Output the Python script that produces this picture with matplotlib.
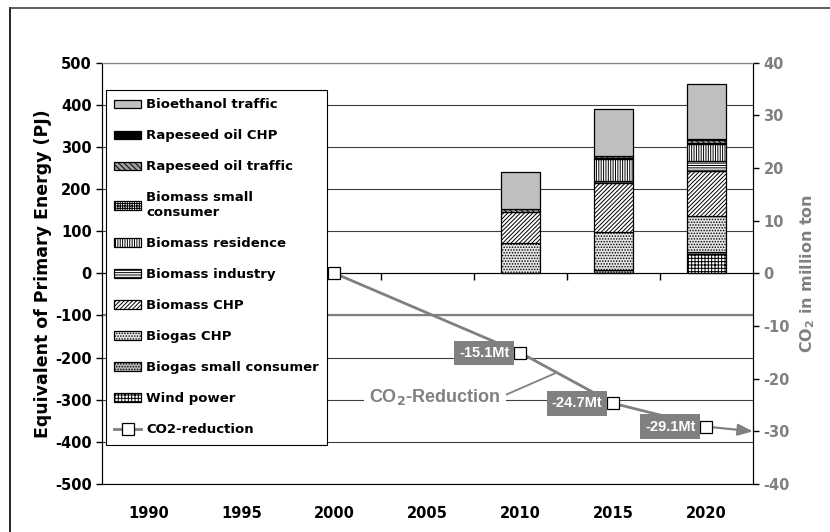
import numpy as np
import matplotlib
matplotlib.use('Agg')
from matplotlib import pyplot as plt
from matplotlib.lines import Line2D

plt.rcParams['font.family'] = ['DejaVu Sans']
plt.rcParams['font.weight'] = 'bold'
plt.rcParams['hatch.linewidth'] = 0.7
plt.rcParams['axes.unicode_minus'] = False

years = ['1990', '1995', '2000', '2005', '2010', '2015', '2020']

# stacked from bottom to top (PJ)
wind_power = [0, 0, 0, 0, 0, 0, 45]
biogas_small = [0, 0, 0, 0, 0, 8, 6]
biogas_chp = [0, 0, 0, 0, 72, 91, 84]
biomass_chp = [0, 0, 0, 0, 73, 115, 108]
biomass_industry = [0, 0, 0, 0, 0, 4, 24]
biomass_residence = [0, 0, 0, 0, 0, 52, 39]
biomass_small = [0, 0, 0, 0, 0, 4, 3]
rapeseed_traffic = [0, 0, 0, 0, 7, 4, 8]
rapeseed_chp = [0, 0, 0, 0, 0, 1, 2]
bioethanol = [0, 0, 0, 0, 89, 110, 129]

# CO2 reduction (million ton), years 2000, 2010, 2015, 2020
co2_idx = [2, 4, 5, 6]
co2_values = [0, -15.1, -24.7, -29.1]
co2_labels = ['', '-15.1Mt', '-24.7Mt', '-29.1Mt']

series = [
    ('Wind power', wind_power, 'white', '+++++'),
    ('Biogas small consumer', biogas_small, '#b8b8b8', '......'),
    ('Biogas CHP', biogas_chp, '#e4e4e4', '......'),
    ('Biomass CHP', biomass_chp, 'white', '////////'),
    ('Biomass industry', biomass_industry, 'white', '-------'),
    ('Biomass residence', biomass_residence, 'white', '|||||||'),
    ('Biomass small\nconsumer', biomass_small, 'white', '+++++++'),
    ('Rapeseed oil traffic', rapeseed_traffic, '#a0a0a0', '\\\\\\\\\\\\'),
    ('Rapeseed oil CHP', rapeseed_chp, 'black', None),
    ('Bioethanol traffic', bioethanol, '#c0c0c0', None),
]

gray = '#808080'
lab_font = ['Liberation Sans', 'DejaVu Sans']

fig = plt.figure(figsize=(8.3, 5.32), dpi=100)
ax = fig.add_axes([0.1229, 0.0902, 0.7843, 0.7923])

x = np.arange(len(years))
bottom = np.zeros(len(years))
handles = []
for name, vals, fc, hatch in series:
    vals = np.array(vals, dtype=float)
    nz = vals > 0
    b = ax.bar(x[nz], vals[nz], 0.41, bottom=bottom[nz], color=fc,
               edgecolor='black', linewidth=0.9, hatch=hatch, label=name,
               zorder=3)
    handles.append(b)
    bottom += vals

ax.set_xlim(-0.5, 6.5)
ax.set_ylim(-500, 500)
ax.set_yticks(np.arange(-500, 501, 100))
ax.tick_params(axis='y', labelsize=10.5, length=4, width=1)
ax.yaxis.grid(True, color='#404040', linewidth=0.8, zorder=0)
ax.set_axisbelow(True)
ax.axhline(-100, color=gray, linewidth=1.6, zorder=1)

ax.spines['bottom'].set_position(('data', 0))
ax.spines['bottom'].set_zorder(4)
ax.spines['top'].set_color(gray)
ax.set_xticks(x)
ax.set_xticklabels([])
ax.tick_params(axis='x', which='major', length=0)
ax.set_xticks(np.arange(0.5, 6, 1), minor=True)
ax.tick_params(axis='x', which='minor', length=5, width=1, direction='out')
for i, yr in enumerate(years):
    ax.text(i, -0.069, yr, transform=ax.get_xaxis_transform(), ha='center',
            va='center', fontsize=10.5, fontweight='bold')

ax.set_ylabel('Equivalent of Primary Energy (PJ)', fontsize=12.5,
              fontweight='bold', labelpad=2)

ax2 = ax.twinx()
ax2.set_ylim(-40, 40)
ax2.set_yticks(np.arange(-40, 41, 10))
ax2.tick_params(axis='y', labelsize=10.5, labelcolor=gray, length=4, width=1)
ax2.set_ylabel('CO$_2$ in million ton', fontsize=11.5, fontweight='bold',
               color=gray, labelpad=6)
ax2.spines['top'].set_color(gray)

co2_line, = ax2.plot(co2_idx, co2_values, color=gray, linewidth=2,
                     marker='s', markersize=8, markerfacecolor='white',
                     markeredgecolor='black', markeredgewidth=0.9,
                     label='CO2-reduction', zorder=5)

for i, v, lab in zip(co2_idx, co2_values, co2_labels):
    if lab:
        ax2.annotate(lab, xy=(i, v), xytext=(-8, 0), textcoords='offset points',
                     ha='right', va='center', color='white', fontsize=10.5,
                     fontweight='bold', family=lab_font, zorder=6,
                     bbox=dict(boxstyle='square,pad=0.35', facecolor=gray,
                               edgecolor='none'))

ax2.annotate('', xy=(6.5, -30), xytext=(6.05, -29.2),
             arrowprops=dict(arrowstyle='-|>,head_length=0.9,head_width=0.35',
                             color=gray, linewidth=1.6, shrinkA=0, shrinkB=0),
             zorder=4)

ax2.annotate('CO$_2$-Reduction', xy=(4.37, -19.0), xytext=(3.08, -23.5),
             ha='center', va='center', color=gray, fontsize=13,
             fontweight='bold', family=lab_font,
             bbox=dict(boxstyle='square,pad=0.3', facecolor='white',
                       edgecolor='none'),
             arrowprops=dict(arrowstyle='-', color=gray, linewidth=1.3,
                             shrinkA=0, shrinkB=0, relpos=(1, 0.5)))

leg_handles = handles[::-1] + [co2_line]
leg = ax.legend(leg_handles, [h.get_label() for h in leg_handles],
                loc='upper left', bbox_to_anchor=(0.006, 0.935),
                borderaxespad=0, fontsize=9.5, frameon=True, fancybox=False,
                edgecolor='black', framealpha=1, labelspacing=1.36,
                handlelength=2.0, handleheight=0.6, handletextpad=0.4,
                borderpad=0.65)
leg.get_frame().set_linewidth(0.8)
leg.set_zorder(7)

# outer frame (left and top only)
fig.add_artist(Line2D([10 / 830, 10 / 830], [0, 1 - 8 / 532], color='black',
                      linewidth=1.2, transform=fig.transFigure))
fig.add_artist(Line2D([10 / 830, 1], [1 - 8 / 532, 1 - 8 / 532], color='#404040',
                      linewidth=1.2, transform=fig.transFigure))

fig.savefig('out.png', dpi=100)
